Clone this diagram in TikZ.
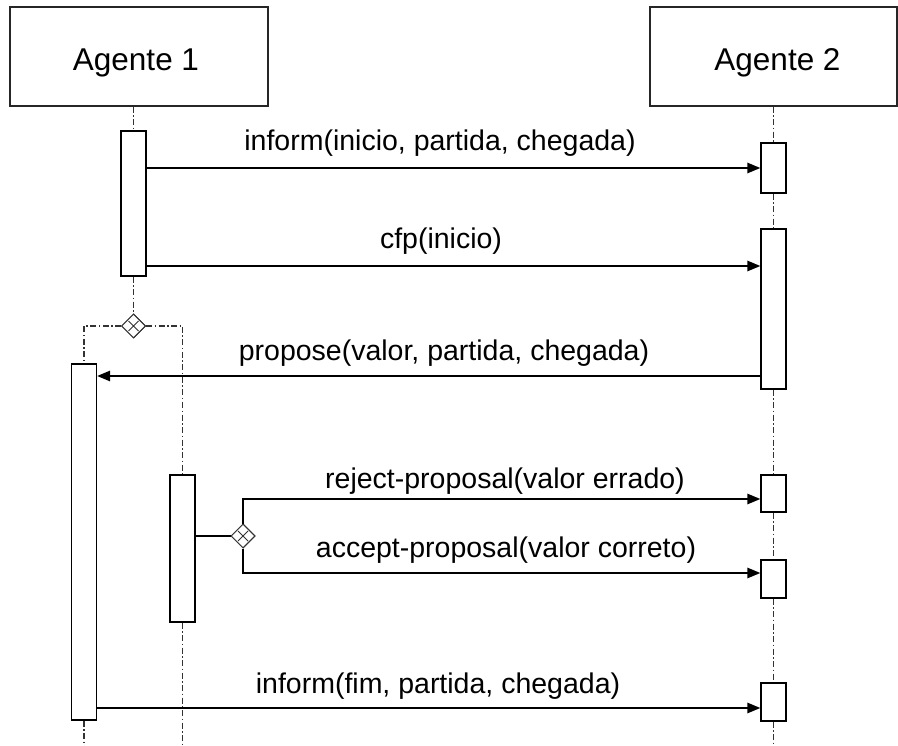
\documentclass[tikz,border=0pt]{standalone}
\usepackage{fontspec}
\setmainfont{Liberation Sans}
\usetikzlibrary{arrows.meta,shapes.geometric}

\begin{document}
\begin{tikzpicture}[x=1pt,y=-1pt,
  agent/.style={draw, line width=1.4pt, black!85, minimum width=258pt, minimum height=99pt, inner sep=0pt},
  agentlbl/.style={anchor=base, inner sep=0pt, font=\fontsize{31.5}{36}\selectfont},
  act/.style={draw, line width=1.4pt, fill=white, minimum width=25pt, inner sep=0pt},
  life/.style={line width=1.1pt, dash pattern=on 6pt off 2.5pt on 1.5pt off 2.5pt, black!80},
  msg/.style={line width=1.4pt, -{Triangle[length=13pt,width=10.5pt]}},
  link/.style={line width=1.4pt},
  lbl/.style={anchor=base, inner sep=0pt, font=\fontsize{28.5}{34}\selectfont},
  choice/.style={draw, diamond, aspect=1, line width=1pt, minimum width=24pt, minimum height=24pt, inner sep=0pt, black!80, fill=white},
  choicex/.style={line width=0.9pt, black!80}
]
\useasboundingbox (0,0) rectangle (898,746);

% agent headers
\node[agent] (ag1) at (139,56.5) {};
\node[agent, minimum width=247pt] (ag2) at (773.5,56.5) {};
\node[agentlbl] (t1) at (136,71) {Agente 1};
\node[agentlbl] (t2) at (777.5,71) {Agente 2};

% helper coordinates
\coordinate (bot) at (0,746);
\coordinate (y1) at (0,168);
\coordinate (y2) at (0,266);
\coordinate (y3) at (0,376);
\coordinate (y4) at (0,499);
\coordinate (y5) at (0,573);
\coordinate (y6) at (0,708);

% activation bars (placed first so lifelines can refer to them)
\path
  node[act, minimum height=145pt] (a1) at (133.5,203.5) {}
  node[act, minimum height=356pt] (a2) at (84,542) {}
  node[act, minimum height=147pt] (c1) at (182.5,548.5) {}
  node[act, minimum height=50pt]  (b1) at (773.5,168) {}
  node[act, minimum height=160pt] (b2) at (773.5,309) {}
  node[act, minimum height=37pt]  (b3) at (773.5,493.5) {}
  node[act, minimum height=38pt]  (b4) at (773.5,579) {}
  node[act, minimum height=38pt]  (b5) at (773.5,702) {};

% choice points
\node[choice] (d1) at (133.5,326) {};
\node[choice] (d2) at (243,536) {};

% lifelines of agent 1 and its branches
\draw[life] (a1.north |- ag1.south) -- (a1.north);
\draw[life] (a1.south) -- (d1.north);
\draw[life] (d1.west) -- (a2.north |- d1.west) -- (a2.north);
\draw[life] (d1.east) -- (c1.north |- d1.east) -- (c1.north);
\draw[life] (a2.south) -- (a2.south |- bot);
\draw[life] (c1.south) -- (c1.south |- bot);

% lifeline of agent 2
\draw[life] (ag2.south) -- (b1.north);
\draw[life] (b1.south) -- (b2.north);
\draw[life] (b2.south) -- (b3.north);
\draw[life] (b3.south) -- (b4.north);
\draw[life] (b4.south) -- (b5.north);
\draw[life] (b5.south) -- (b5.south |- bot);

% redraw bars and diamonds above the lifelines
\path
  node[act, minimum height=145pt] at (a1) {}
  node[act, minimum height=356pt] at (a2) {}
  node[act, minimum height=147pt] at (c1) {}
  node[act, minimum height=50pt]  at (b1) {}
  node[act, minimum height=160pt] at (b2) {}
  node[act, minimum height=37pt]  at (b3) {}
  node[act, minimum height=38pt]  at (b4) {}
  node[act, minimum height=38pt]  at (b5) {};
\node[choice] at (d1) {};
\node[choice] at (d2) {};
\draw[choicex] ([shift={(-5,-5)}]d1.center) -- ([shift={(5,5)}]d1.center)
               ([shift={(-5,5)}]d1.center) -- ([shift={(5,-5)}]d1.center);
\draw[choicex] ([shift={(-5,-5)}]d2.center) -- ([shift={(5,5)}]d2.center)
               ([shift={(-5,5)}]d2.center) -- ([shift={(5,-5)}]d2.center);

% messages
\draw[msg] (a1.east |- y1) -- (b1.west |- y1);
\draw[msg] (a1.east |- y2) -- (b2.west |- y2);
\draw[msg] (b2.west |- y3) -- (a2.east |- y3);
\draw[link] (c1.east |- d2) -- (d2.west);
\draw[msg] (d2.north) -- (d2.north |- y4) -- (b3.west |- y4);
\draw[msg] (d2.south) -- (d2.south |- y5) -- (b4.west |- y5);
\draw[msg] (a2.east |- y6) -- (b5.west |- y6);

% message labels
\node[lbl] (m1) at (440,151) {inform(inicio, partida, chegada)};
\node[lbl] (m2) at (441,249) {cfp(inicio)};
\node[lbl] (m3) at (444,361) {propose(valor, partida, chegada)};
\node[lbl] (m4) at (505,488) {reject-proposal(valor errado)};
\node[lbl] (m5) at (506,557) {accept-proposal(valor correto)};
\node[lbl] (m6) at (438,693) {inform(fim, partida, chegada)};
\end{tikzpicture}
\end{document}
